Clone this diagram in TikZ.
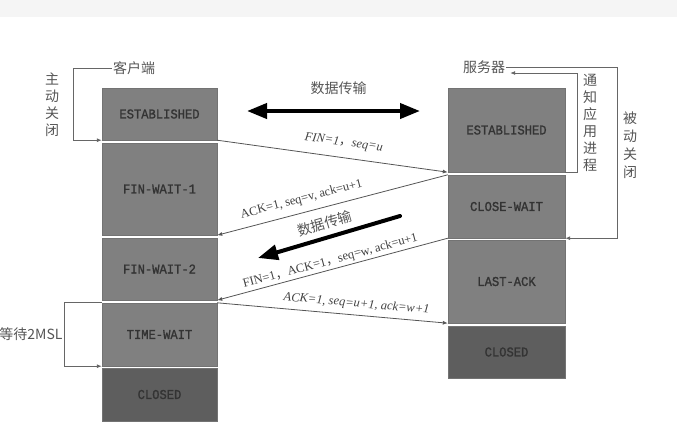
\documentclass[tikz,border=0pt]{standalone}
\usepackage{fontspec}
\setmainfont{Liberation Serif}
\newfontfamily\cjk{Noto Sans CJK SC}
\newfontfamily\statefont[FakeBold=1.2,FakeStretch=0.9]{Liberation Mono}
\usetikzlibrary{arrows.meta,positioning,calc}

\definecolor{boxgray}{HTML}{808080}
\definecolor{darkbox}{HTML}{5E5E5E}
\definecolor{linegray}{HTML}{555555}
\definecolor{zhgray}{HTML}{555555}
\definecolor{topband}{HTML}{F5F5F5}

\begin{document}
\begin{tikzpicture}[x=1pt,y=-1pt,>=Latex,
    state/.style={draw=black!55,fill=boxgray,minimum width=115pt,inner sep=0pt,
      font=\statefont\fontsize{13.5}{15}\selectfont,text=black!80},
    closed/.style={state,fill=darkbox},
    msg/.style={draw=linegray,line width=0.8pt,-{Latex[length=5pt,width=4pt]}},
    bracket/.style={draw=black!60,line width=0.8pt,-{Latex[length=5pt,width=4pt]}},
    lbl/.style={font=\fontsize{12.5}{14}\selectfont,text=black!75,sloped,inner sep=2pt},
    zh/.style={font=\cjk\fontsize{14}{17}\selectfont,text=zhgray,align=center,inner sep=1pt},
    bulk/.style={line width=4pt,line cap=round,-{Triangle[length=20pt,width=15pt]}}]
  \useasboundingbox (0,0) rectangle (677,440);
  \fill[topband] (0,0) rectangle (677,17);

  % client side
  \node[state,minimum height=52pt] (cEst) at (159.5,114) {ESTABLISHED};
  \node[state,minimum height=92pt] (cFw1) at (159.5,189) {FIN-WAIT-1};
  \node[state,minimum height=62pt] (cFw2) at (159.5,269) {FIN-WAIT-2};
  \node[state,minimum height=63pt] (cTw) at (159.5,334.5) {TIME-WAIT};
  \node[closed,minimum height=53pt] (cCl) at (159.5,394.5) {CLOSED};

  % server side
  \node[state,minimum width=117pt,minimum height=84pt] (sEst) at (506.5,130) {ESTABLISHED};
  \node[state,minimum width=117pt,minimum height=63pt] (sCw) at (506.5,206.5) {CLOSE-WAIT};
  \node[state,minimum width=117pt,minimum height=83pt] (sLa) at (506.5,281.5) {LAST-ACK};
  \node[closed,minimum width=117pt,minimum height=52pt] (sCl) at (506.5,352) {CLOSED};

  % side labels
  \node[zh] (cli) at (134,68) {客户端};
  \node[zh] (act) at (52,105) {主\\动\\关\\闭};
  \node[zh] (wait) at (31,334) {等待2MSL};
  \node[zh] (srv) at (484,67) {服务器};
  \node[zh] (notify) at (590,122.5) {通\\知\\应\\用\\进\\程};
  \node[zh,font=\cjk\fontsize{14}{18}\selectfont] (pas) at (630,145) {被\\动\\关\\闭};

  \draw[bracket] (cli.west) -- ++(-38,0) |- (cEst.south west);
  \draw[bracket] (cTw.north west) -- ++(-37,0) |- (cTw.south west);
  \draw[bracket] (srv.east) -| ($(sCw.south east)+(52,0)$) -- (sCw.south east);
  \draw[bracket] (sEst.south east) -- ++(12,0) |- ($(srv.east)+(4,6)$);

  % data transfer
  \coordinate (dL) at (247,111);
  \coordinate (dR) at (420,111);
  \draw[bulk,{Triangle[length=20pt,width=15pt]}-{Triangle[length=20pt,width=15pt]}] (dL) -- node[zh,above=13pt,xshift=5pt] {数据传输} (dR);
  \coordinate (mR) at (400,216);
  \coordinate (mL) at (258,258);
  \draw[bulk] (mR) -- node[zh,sloped,above=5pt] {数据传输} (mL);

  % segments
  \draw[msg] (cEst.south east) -- node[lbl,above=7pt,pos=0.54] {\itshape FIN=1{\cjk ，}seq=u} (sEst.south west);
  \draw[msg] (sCw.north west) -- node[lbl,above=5pt,pos=0.62] {ACK=1, seq=v, ack=u+1} (cFw1.south east);
  \draw[msg] (sCw.south west) -- node[lbl,above=0pt,pos=0.5] {FIN=1{\cjk ，}ACK=1{\cjk ，}seq=w, ack=u+1} (cFw2.south east);
  \draw[msg] (cTw.north east) -- node[lbl,above=3pt,pos=0.6] {\itshape ACK=1, seq=u+1, ack=w+1} (sLa.south west);
\end{tikzpicture}
\end{document}
